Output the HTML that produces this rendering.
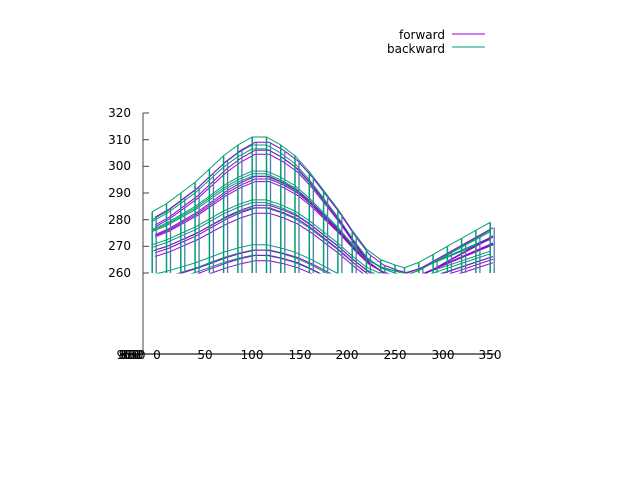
<!DOCTYPE html>
<html><head><meta charset="utf-8"><style>
body{margin:0;background:#fff}
svg{display:block;font-family:"DejaVu Sans","Liberation Sans",sans-serif;font-size:12px}
</style></head><body>
<svg id="s" width="640" height="480" xmlns="http://www.w3.org/2000/svg">
<rect width="640" height="480" fill="#fff"/>
<defs><clipPath id="c"><rect x="140" y="100" width="370" height="173.5"/></clipPath></defs>
<g id="plot" clip-path="url(#c)" fill="none" stroke-width="1"></g>
<line x1="143" y1="113" x2="143" y2="354" stroke="#444"/>
<line x1="120" y1="354" x2="496" y2="354" stroke="#222" stroke-width="1.3"/>
<g stroke="#444">
<line x1="143" y1="113" x2="149" y2="113"/><line x1="143" y1="139.7" x2="149" y2="139.7"/>
<line x1="143" y1="166.3" x2="149" y2="166.3"/><line x1="143" y1="193" x2="149" y2="193"/>
<line x1="143" y1="219.7" x2="149" y2="219.7"/><line x1="143" y1="246.3" x2="149" y2="246.3"/>
<line x1="143" y1="273" x2="149" y2="273"/>
</g>
<g text-anchor="end" fill="#000">
<text x="131" y="117">320</text><text x="131" y="144">310</text><text x="131" y="170">300</text>
<text x="131" y="197">290</text><text x="131" y="224">280</text><text x="131" y="250">270</text>
<text x="131" y="277">260</text>
</g>
<g text-anchor="middle" fill="#000">
<text x="157" y="359">0</text><text x="205" y="359">50</text><text x="252" y="359">100</text>
<text x="300" y="359">150</text><text x="347" y="359">200</text><text x="395" y="359">250</text>
<text x="443" y="359">300</text><text x="490" y="359">350</text>
<text x="130" y="359">850</text><text x="132" y="359">800</text><text x="134" y="359">650</text><text x="128" y="359">900</text>
</g>
<text x="445" y="39" text-anchor="end">forward</text>
<line x1="452" y1="34" x2="485" y2="34" stroke="#9400d3"/>
<text x="445" y="53" text-anchor="end">backward</text>
<line x1="452" y1="47" x2="485" y2="47" stroke="#009e73"/>
</svg>
<script>
var P=[[-5,283],[10,286],[25,290],[40,294],[55,299],[70,304],[85,308],[100,311],[115,311],[130,308],[145,304],[160,298],[175,291],[190,284],[205,276],[220,269],[235,265],[250,263],[260,262],[275,264],[290,267],[305,270],[320,273],[335,276],[350,279]];
function X(v){return 157+v*0.952;}function Y(v){return 113+(320-v)*2.667;}
var g=document.getElementById('plot'),h='';
function curve(dx,s,off,col){var d='';P.forEach(function(p,i){d+=(i?'L':'M')+X(p[0]+dx).toFixed(1)+' '+Y(262+(p[1]-262)*s+off).toFixed(1);});h+='<path d="'+d+'" stroke="'+col+'"/>';}
var G=[[1,0],[1,-3],[0.97,-3],[0.78,-2],[0.76,-2],[0.74,-2],[0.6,-4],[0.6,-5],[0.58,-6],[0.4,-11],[0.4,-13],[0.38,-14]];
G.forEach(function(o){curve(0,o[0],o[1],'#009e73');});
G.forEach(function(o){curve(3,o[0],o[1]-2,'#9400d3');});
P.forEach(function(p){h+='<line x1="'+X(p[0]).toFixed(1)+'" y1="'+Y(p[1])+'" x2="'+X(p[0]).toFixed(1)+'" y2="273" stroke="#009e73" stroke-width="1.5"/>';h+='<line x1="'+(X(p[0])+4).toFixed(1)+'" y1="'+Y(p[1]-2)+'" x2="'+(X(p[0])+4).toFixed(1)+'" y2="273" stroke="#4a7aa8" stroke-width="1.3"/>';});
g.innerHTML=h;
</script>
</body></html>
